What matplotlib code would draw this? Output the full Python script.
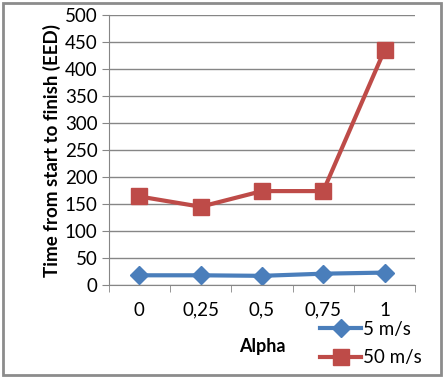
import matplotlib
matplotlib.use("Agg")
import matplotlib.pyplot as plt
from matplotlib.patches import Rectangle

categories = ["0", "0,25", "0,5", "0,75", "1"]
series_5 = [18, 18, 17, 21, 23]
series_50 = [164, 145, 174, 174, 435]
labels = ["5 m/s", "50 m/s"]

plt.rcParams['font.family'] = ['Lato', 'DejaVu Sans']

fig = plt.figure(figsize=(4.44, 3.78), dpi=100)
ax = fig.add_axes([0.245, 0.246, 0.69, 0.714])

x = list(range(len(categories)))
ax.plot(x, series_5, color='#4a7ebb', lw=3, marker='D', ms=9, label=labels[0])
ax.plot(x, series_50, color='#be4b48', lw=3, marker='s', ms=11, label=labels[1])

ax.set_xlim(-0.5, len(categories) - 0.5)
ax.set_ylim(0, 500)
ax.set_yticks(range(0, 501, 50))
ax.set_xticks(x)
ax.set_xticklabels(categories)
ax.set_xticks([i - 0.5 for i in range(len(categories) + 1)], minor=True)
ax.tick_params(axis='x', which='major', length=0, pad=12, labelsize=13.5)
ax.tick_params(axis='x', which='minor', length=5, color='#868686')
ax.tick_params(axis='y', length=5, color='#868686', labelsize=13.5, pad=3)
ax.grid(axis='y', color='#868686', lw=1)
ax.set_axisbelow(True)
for s in ['top', 'right']:
    ax.spines[s].set_visible(False)
for s in ['left', 'bottom']:
    ax.spines[s].set_color('#868686')

ax.set_ylabel("Time from start to finish (EED)", fontsize=13.5, fontweight='bold', labelpad=3)
ax.set_xlabel("Alpha", fontsize=13, fontweight='bold', labelpad=14)

ax.legend(loc='upper left', bbox_to_anchor=(0.665, -0.105), frameon=False, fontsize=13.5,
          handlelength=2.2, handletextpad=0.1, labelspacing=0.6, borderaxespad=0)

fig.patches.append(Rectangle((0.006, 0.008), 0.988, 0.984, transform=fig.transFigure,
                             fill=False, edgecolor='#8c8c8c', lw=2))

fig.savefig("out.png", dpi=100)
